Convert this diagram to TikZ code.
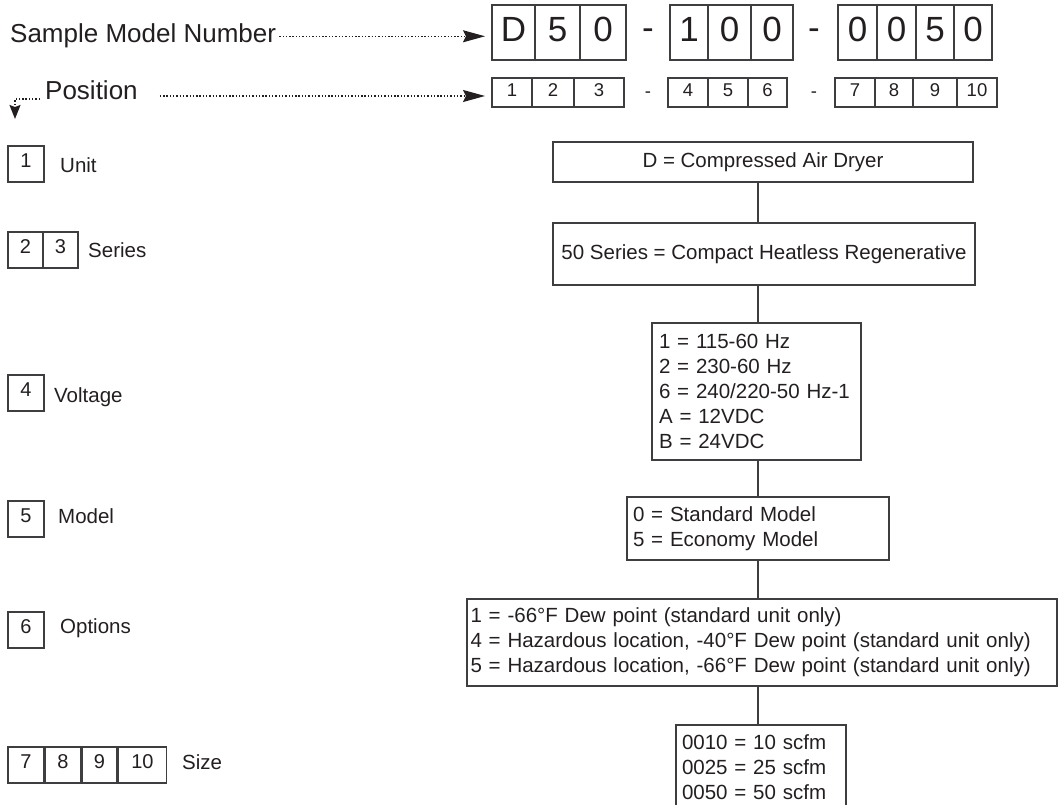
\documentclass[tikz,border=0pt]{standalone}
\usepackage{fontspec}
\setmainfont{Liberation Sans}
\usetikzlibrary{arrows.meta,positioning}

\definecolor{inkcol}{RGB}{35,31,32}
\definecolor{rulecol}{RGB}{62,62,64}

\tikzset{
  bigcell/.style={draw=rulecol, line width=1.1pt, inner sep=0pt, outer sep=0pt,
    minimum height=55pt, text=inkcol, text depth=6pt,
    font=\fontsize{35}{35}\selectfont},
  poscell/.style={draw=rulecol, line width=1.1pt, inner sep=0pt, outer sep=0pt,
    minimum height=29pt, text=inkcol, text depth=4pt,
    font=\fontsize{18.5}{18.5}\selectfont},
  keycell/.style={draw=rulecol, line width=1.1pt, inner sep=0pt, outer sep=0pt,
    minimum width=36pt, minimum height=36pt, text=inkcol, text depth=6pt,
    font=\fontsize{20}{20}\selectfont},
  bigdash/.style={anchor=base, inner sep=0pt, text=inkcol, font=\fontsize{35}{35}\selectfont},
  posdash/.style={anchor=base, inner sep=0pt, text=inkcol, font=\fontsize{18.5}{18.5}\selectfont},
  heading/.style={anchor=base west, inner sep=0pt, text=inkcol, font=\fontsize{26}{30}\selectfont},
  keylabel/.style={anchor=base west, inner sep=0pt, text=inkcol, font=\fontsize{20.5}{24}\selectfont},
  choice/.style={draw=rulecol, line width=1.1pt, outer sep=0pt, align=left, text=inkcol,
    font=\fontsize{20.5}{25}\selectfont},
  stem/.style={draw=rulecol, line width=1.1pt},
  dotline/.style={draw=inkcol, line width=1.5pt, dash pattern=on 1.4pt off 1.9pt},
  bighead/.style={-{Stealth[length=22pt,width=12pt,inset=3pt]}},
}

\begin{document}
\begin{tikzpicture}[x=1pt, y=-1pt]
  \useasboundingbox (0,0) rectangle (1061,805);
  \clip (0,0) rectangle (1061,805);

  % headings
  \node[heading] (sample) at (10,43) {Sample Model Number};
  \node[heading] (pos) at (45,100) {Position};

  % sample model number
  \node[bigcell, minimum width=43pt, anchor=north west] (n1) at (492,5) {D};
  \node[bigcell, minimum width=45pt, right=0pt of n1] (n2) {5};
  \node[bigcell, minimum width=46pt, right=0pt of n2] (n3) {0};
  \node[bigdash] (nd1) at (648,40) {-};
  \node[bigcell, minimum width=38pt, anchor=north west] (n4) at (670,5) {1};
  \node[bigcell, minimum width=43pt, right=0pt of n4] (n5) {0};
  \node[bigcell, minimum width=42pt, right=0pt of n5] (n6) {0};
  \node[bigdash] (nd2) at (814,40) {-};
  \node[bigcell, minimum width=39pt, anchor=north west] (n7) at (838,5) {0};
  \node[bigcell, minimum width=39pt, right=0pt of n7] (n8) {0};
  \node[bigcell, minimum width=38pt, right=0pt of n8] (n9) {5};
  \node[bigcell, minimum width=38pt, right=0pt of n9] (n10) {0};

  % positions
  \node[poscell, minimum width=40pt, anchor=north west] (p1) at (492,78) {1};
  \node[poscell, minimum width=42pt, right=0pt of p1] (p2) {2};
  \node[poscell, minimum width=50pt, right=0pt of p2] (p3) {3};
  \node[posdash] (pd1) at (648,98) {-};
  \node[poscell, minimum width=40pt, anchor=north west] (p4) at (668,78) {4};
  \node[poscell, minimum width=40pt, right=0pt of p4] (p5) {5};
  \node[poscell, minimum width=39pt, right=0pt of p5] (p6) {6};
  \node[posdash] (pd2) at (814,98) {-};
  \node[poscell, minimum width=40pt, anchor=north west] (p7) at (835,78) {7};
  \node[poscell, minimum width=38pt, right=0pt of p7] (p8) {8};
  \node[poscell, minimum width=44pt, right=0pt of p8] (p9) {9};
  \node[poscell, minimum width=40pt, right=0pt of p9] (p10) {10};

  \coordinate (posarrow) at ([yshift=4pt]pos.base east);
  \coordinate (drop) at (15,119);
  \draw[dotline, bighead, shorten <=3pt, shorten >=7pt] (sample.east) -- (sample.east -| n1.west);
  \draw[dotline, bighead, shorten <=22pt, shorten >=7pt] (posarrow) -- (posarrow -| p1.west);
  \draw[dotline, -{Stealth[length=14pt,width=11pt,inset=2pt]}, shorten <=5pt]
    ([yshift=1pt]pos.base west) -| (drop);

  % key column
  \node[keycell, anchor=north west] (k1) at (8,146) {1};
  \node[keylabel] (unitlbl) at (60,173) {Unit};
  \node[keycell, minimum width=35pt, anchor=north west] (k2) at (8,232) {2};
  \node[keycell, minimum width=35pt, right=0pt of k2] (k3) {3};
  \node[keylabel] (serieslbl) at (88,258) {Series};
  \node[keycell, anchor=north west] (k4) at (8,375) {4};
  \node[keylabel] (voltlbl) at (54,402) {Voltage};
  \node[keycell, anchor=north west] (k5) at (8,501) {5};
  \node[keylabel] (modellbl) at (58,523) {Model};
  \node[keycell, anchor=north west] (k6) at (8,612) {6};
  \node[keylabel] (optslbl) at (60,633) {Options};
  \node[keycell, anchor=north west] (k7) at (8,747) {7};
  \node[keycell, minimum width=35pt, right=1.5pt of k7] (k8) {8};
  \node[keycell, minimum width=35pt, right=1.5pt of k8] (k9) {9};
  \node[keycell, minimum width=48pt, right=1.5pt of k9] (k10) {10};
  \node[keylabel] (sizelbl) at (182,769) {Size};

  % choices
  \coordinate (spine) at (758,0);
  \node[choice, minimum width=420pt, minimum height=40pt] (unit) at (763,162) {D = Compressed Air Dryer};
  \node[choice, minimum width=422pt, minimum height=62pt] (series) at (764,254) {50 Series = Compact Heatless Regenerative};
  \node[choice, anchor=north west, text width=195pt, inner xsep=7pt, minimum height=137pt] (volt) at (652,323)
    {1 = 115-60 Hz\\2 = 230-60 Hz\\6 = 240/220-50 Hz-1\\A = 12VDC\\B = 24VDC};
  \node[choice, anchor=north west, text width=250pt, inner xsep=6pt, minimum height=63pt] (model) at (627,497)
    {0 = Standard Model\\5 = Economy Model};
  \node[choice, anchor=north west, text width=583pt, inner xsep=3.5pt, minimum height=87pt] (opts) at (467,599)
    {1 = -66°F Dew point (standard unit only)\\4 = Hazardous location, -40°F Dew point (standard unit only)\\5 = Hazardous location, -66°F Dew point (standard unit only)};
  \node[choice, anchor=north west, text width=158pt, inner xsep=6pt, minimum height=84pt] (size) at (676,725)
    {0010 = 10 scfm\\0025 = 25 scfm\\0050 = 50 scfm};

  \draw[stem] (spine |- unit.south) -- (spine |- series.north);
  \draw[stem] (spine |- series.south) -- (spine |- volt.north);
  \draw[stem] (spine |- volt.south) -- (spine |- model.north);
  \draw[stem] (spine |- model.south) -- (spine |- opts.north);
  \draw[stem] (spine |- opts.south) -- (spine |- size.north);
\end{tikzpicture}
\end{document}
